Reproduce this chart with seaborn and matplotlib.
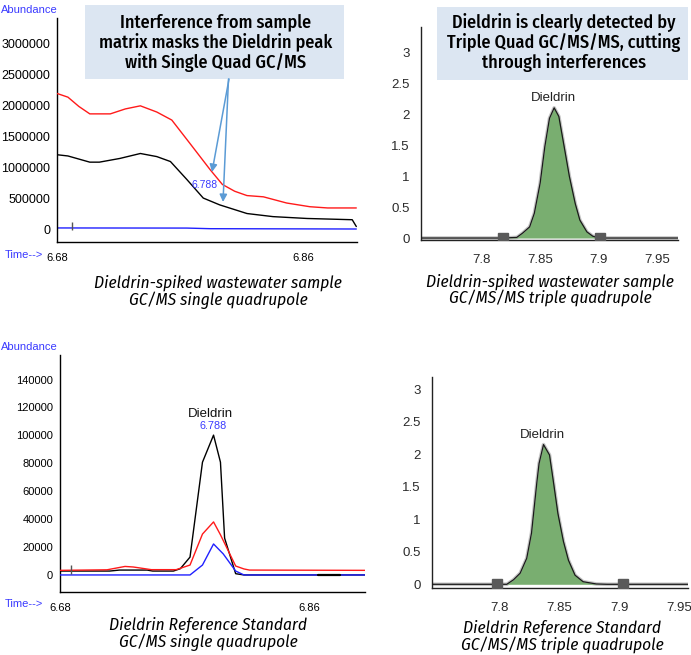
import numpy as np
import matplotlib
matplotlib.use("Agg")
import matplotlib.pyplot as plt
import seaborn as sns
from matplotlib import font_manager as fm
from matplotlib.patches import Rectangle, FancyArrowPatch

# ---------------- data ----------------
# Top-left: wastewater sample, single quad (time min, abundance)
tl_time_red = [6.680, 6.688, 6.696, 6.704, 6.719, 6.730, 6.741, 6.753, 6.764, 6.777, 6.792, 6.801, 6.810, 6.819, 6.831, 6.848, 6.865, 6.878, 6.899]
tl_red = [2200000, 2140000, 1990000, 1870000, 1870000, 1950000, 2000000, 1900000, 1770000, 1400000, 970000, 730000, 620000, 550000, 530000, 430000, 370000, 350000, 350000]
tl_time_black = [6.680, 6.688, 6.704, 6.711, 6.726, 6.741, 6.753, 6.763, 6.775, 6.787, 6.799, 6.819, 6.838, 6.863, 6.896, 6.899]
tl_black = [1210000, 1190000, 1090000, 1090000, 1150000, 1230000, 1180000, 1100000, 810000, 510000, 400000, 260000, 210000, 180000, 160000, 50000]
tl_time_blue = [6.680, 6.775, 6.792, 6.899]
tl_blue = [27000, 25000, 15000, 10000]
tl_rt_label = 6.788
tl_int_start = 6.691
tl_int_height = [0, 130000]

# Bottom-left: reference standard, single quad
bl_time_black = [6.680, 6.716, 6.723, 6.743, 6.747, 6.762, 6.767, 6.774, 6.783, 6.791, 6.796, 6.799, 6.807, 6.813, 6.9005]
bl_black = [2800, 2800, 3500, 3500, 2800, 2800, 4500, 12800, 80800, 100200, 80800, 26400, 900, 0, 0]
bl_time_red = [6.680, 6.714, 6.727, 6.733, 6.746, 6.764, 6.774, 6.783, 6.791, 6.796, 6.807, 6.813, 6.817, 6.9005]
bl_red = [3300, 3700, 6100, 5700, 3800, 3800, 7100, 29300, 38000, 28800, 6400, 4300, 3500, 3300]
bl_time_blue = [6.680, 6.774, 6.783, 6.791, 6.798, 6.807, 6.813, 6.9005]
bl_blue = [0, 0, 7100, 22200, 15100, 2800, 0, 0]
bl_time_black_seg = [6.8666, 6.8825]
bl_black_seg = [300, 300]
bl_int_start = 6.688
bl_int_height = [900, 7300]

# Top-right: wastewater sample, triple quad
tr_time = [7.748, 7.818, 7.830, 7.835, 7.841, 7.845, 7.850, 7.854, 7.858, 7.862, 7.866, 7.870, 7.875, 7.880, 7.884, 7.890, 7.895, 7.901, 7.968]
tr_resp = [0, 0, 0.01, 0.08, 0.18, 0.40, 0.89, 1.48, 1.94, 2.11, 1.97, 1.54, 1.00, 0.56, 0.29, 0.10, 0.03, 0.0, 0.0]
tr_marks = [7.818, 7.901]

# Bottom-right: reference standard, triple quad
br_time = [7.744, 7.8064, 7.812, 7.8175, 7.823, 7.827, 7.8314, 7.8333, 7.837, 7.842, 7.845, 7.849, 7.8536, 7.8578, 7.8633, 7.870, 7.881, 7.890, 7.9575]
br_resp = [0, 0, 0.07, 0.17, 0.40, 0.79, 1.56, 1.86, 2.15, 1.99, 1.61, 1.09, 0.66, 0.37, 0.14, 0.04, 0.005, 0, 0]
br_marks = [7.798, 7.9036]

sq_yticks_tl = [0, 500000, 1000000, 1500000, 2000000, 2500000, 3000000]
sq_yticks_bl = [0, 20000, 40000, 60000, 80000, 100000, 120000, 140000]
tq_yticks = [0, 0.5, 1, 1.5, 2, 2.5, 3]
tq_yticklabels = ["0", "0.5", "1", "1.5", "2", "2.5", "3"]
tq_xticks = [7.8, 7.85, 7.9, 7.95]
tq_xticklabels = ["7.8", "7.85", "7.9", "7.95"]

box1_lines = ["Interference from sample", "matrix masks the Dieldrin peak", "with Single Quad GC/MS"]
box2_lines = ["Dieldrin is clearly detected by", "Triple Quad GC/MS/MS, cutting", "through interferences"]
cap_tl = ["Dieldrin-spiked wastewater sample", "GC/MS single quadrupole"]
cap_tr = ["Dieldrin-spiked wastewater sample", "GC/MS/MS triple quadrupole"]
cap_bl = ["Dieldrin Reference Standard", "GC/MS single quadrupole"]
cap_br = ["Dieldrin Reference Standard", "GC/MS/MS triple quadrupole"]

# ---------------- style ----------------
sns.set_style("white")
names = {f.name for f in fm.fontManager.ttflist}
COND = "Lato"
for cand in ["Fira Sans Condensed", "Roboto Condensed", "IBM Plex Sans Condensed", "Liberation Sans Narrow", "Lato"]:
    if cand in names:
        COND = cand
        break
TICKF = "Liberation Sans" if "Liberation Sans" in names else "DejaVu Sans"
plt.rcParams["font.family"] = [TICKF, "DejaVu Sans"]

W, H = 691, 655
fig = plt.figure(figsize=(W / 100, H / 100), dpi=100)
fig.patch.set_facecolor("white")


def add_ax(l, t, r, b):
    return fig.add_axes([l / W, 1 - b / H, (r - l) / W, (b - t) / H])


def fx(x):
    return x / W


def fy(y):
    return 1 - y / H


BLUE_TXT = "#3a3aff"


def style_sq(ax, xlim, ylim, yt, ymin_step, fs):
    ax.set_xlim(*xlim)
    ax.set_ylim(*ylim)
    ax.set_facecolor("white")
    for s in ["top", "right"]:
        ax.spines[s].set_visible(False)
    for s in ["left", "bottom"]:
        ax.spines[s].set_color("black")
        ax.spines[s].set_linewidth(1)
    xt = [xlim[0] + 0.036 * i for i in range(7)]
    ax.set_xticks(xt)
    ax.set_xticklabels(["6.68", "", "", "", "", "6.86", ""])
    ax.tick_params(axis="x", direction="out", length=5, width=1, pad=3, labelsize=8, colors="black")
    ax.set_yticks(yt)
    ax.set_yticklabels([str(v) for v in yt])
    ax.set_yticks(np.arange(ylim[0] - ylim[0] % ymin_step, ylim[1], ymin_step), minor=True)
    ax.tick_params(axis="y", which="major", direction="out", length=4, width=1, pad=1, labelsize=fs, colors="black")
    ax.tick_params(axis="y", which="minor", direction="out", length=3, width=1, colors="black")
    ax.set_xlabel("")
    ax.set_ylabel("")
    ax.grid(False)


def style_tq(ax, xlim, ylim):
    ax.set_xlim(*xlim)
    ax.set_ylim(*ylim)
    ax.set_facecolor("white")
    for s in ["top", "right"]:
        ax.spines[s].set_visible(False)
    for s in ["left", "bottom"]:
        ax.spines[s].set_color("#222222")
        ax.spines[s].set_linewidth(1)
    ax.set_xticks([xlim[0]] + tq_xticks)
    ax.set_xticklabels([""] + tq_xticklabels)
    ax.set_yticks(tq_yticks)
    ax.set_yticklabels(tq_yticklabels)
    ax.tick_params(axis="both", direction="out", length=6, width=1, labelsize=9.5, colors="#2a2a2a")
    ax.tick_params(axis="x", pad=4)
    ax.tick_params(axis="y", pad=2)
    ax.set_xlabel("")
    ax.set_ylabel("")
    ax.grid(False)


def line(ax, x, y, color, lw=1.0, z=2, alpha=1.0):
    sns.lineplot(x=x, y=y, ax=ax, color=color, lw=lw, sort=False, estimator=None,
                 zorder=z, alpha=alpha, legend=False)


# ---------------- top-left ----------------
ax1 = add_ax(57, 18, 357, 242)
line(ax1, tl_time_blue, tl_blue, "#2020ff", z=2)
line(ax1, tl_time_black, tl_black, "black", z=3)
line(ax1, tl_time_red, tl_red, "#ff1a1a", z=4)
ax1.vlines(tl_int_start, tl_int_height[0], tl_int_height[1], color="#555555", lw=1, zorder=5)
style_sq(ax1, (6.68, 6.8995), (-193500, 3419000), sq_yticks_tl, 100000, 9)
ax1.annotate(f"{tl_rt_label:.3f}", xy=(tl_rt_label, np.interp(tl_rt_label, tl_time_black, tl_black)),
             xytext=(0, 9.5), textcoords="offset points", ha="center", va="center",
             fontsize=7.5, color=BLUE_TXT, zorder=6)
fig.text(fx(58), fy(10), "Abundance", ha="right", va="center", fontsize=8, color=BLUE_TXT)
fig.text(fx(5), fy(255), "Time-->", ha="left", va="center", fontsize=8, color=BLUE_TXT)

# ---------------- bottom-left ----------------
ax3 = add_ax(60, 355, 365, 591.7)
line(ax3, bl_time_black, bl_black, "black", z=2)
line(ax3, bl_time_blue, bl_blue, "#2020ff", z=3)
line(ax3, bl_time_red, bl_red, "#ff1a1a", z=4)
line(ax3, bl_time_black_seg, bl_black_seg, "black", lw=1.6, z=5)
ax3.vlines(bl_int_start, bl_int_height[0], bl_int_height[1], color="#555555", lw=1, zorder=5)
style_sq(ax3, (6.68, 6.9005), (-10210, 157610), sq_yticks_bl, 4000, 8)
imax = int(np.argmax(bl_black))
ax3.annotate("6.788", xy=(bl_time_black[imax], bl_black[imax]), xytext=(0, 6.5),
             textcoords="offset points", ha="center", va="center", fontsize=7.8, color=BLUE_TXT)
ax3.annotate("Dieldrin", xy=(bl_time_black[imax], bl_black[imax]), xytext=(-2, 15.5),
             textcoords="offset points", ha="center", va="center", fontsize=9.5, color="#111111")
fig.text(fx(58), fy(347), "Abundance", ha="right", va="center", fontsize=8, color=BLUE_TXT)
fig.text(fx(5), fy(604), "Time-->", ha="left", va="center", fontsize=8, color=BLUE_TXT)

# ---------------- right panels ----------------
GREEN = "#79ae70"


def tq_panel(ax, t, r, marks, xlim, ylim):
    t = np.array(t)
    r = np.array(r)
    m = (t >= marks[0]) & (t <= marks[1])
    ax.fill_between(t[m], 0, r[m], color=GREEN, lw=0, zorder=2)
    line(ax, t, r, "#c4c4c4", lw=2.6, z=1)
    line(ax, t, r, "#1a1a1a", lw=0.9, z=3)
    ax.plot(marks, [0, 0], ls="none", marker="s", ms=6.5, color="#5a5a5a", zorder=4)
    style_tq(ax, xlim, ylim)
    i = int(np.argmax(r))
    ax.annotate("Dieldrin", xy=(t[i], r[i]), xytext=(-0.5, 7), textcoords="offset points",
                ha="center", va="center", fontsize=9.5, color="#222222")


ax2 = add_ax(421, 27, 678, 240)
tq_panel(ax2, tr_time, tr_resp, tr_marks, (7.748, 7.968), (-0.032, 3.42))
ax4 = add_ax(432, 377, 688, 588)
tq_panel(ax4, br_time, br_resp, br_marks, (7.744, 7.9575), (-0.057, 3.19))

# ---------------- callout boxes ----------------
BOX = "#dce6f2"
fig.patches.append(Rectangle((fx(85), fy(79)), (344 - 85) / W, (79 - 5) / H, transform=fig.transFigure,
                             facecolor=BOX, edgecolor="none", zorder=10))
fig.patches.append(Rectangle((fx(437), fy(80)), (688 - 437) / W, (80 - 7) / H, transform=fig.transFigure,
                             facecolor=BOX, edgecolor="none", zorder=10))

renderer = fig.canvas.get_renderer()


def fit_size(s, target_w, style="normal", weight="normal", base=12):
    t = fig.text(0, 0, s, fontsize=base, family=[COND, "DejaVu Sans"], style=style, weight=weight)
    w = t.get_window_extent(renderer).width
    t.remove()
    return base * target_w / w


def text_lines(lines, cx, ys, size, style="normal", weight="normal"):
    for s, y in zip(lines, ys):
        fig.text(fx(cx), fy(y), s, ha="center", va="center", fontsize=size,
                 family=[COND, "DejaVu Sans"], style=style, weight=weight, color="black", zorder=11)


box_size = fit_size(box1_lines[1], 233, weight="medium")
text_lines(box1_lines, 216, [22, 42, 62], box_size, weight="medium")
text_lines(box2_lines, 564, [22, 42, 62], box_size, weight="medium")

for (x0, y0), (x1, y1) in [((229, 79), (212, 172)), ((228.5, 79), (223, 202))]:
    fig.patches.append(FancyArrowPatch((fx(x0), fy(y0)), (fx(x1), fy(y1)), transform=fig.transFigure,
                                       arrowstyle="-|>", mutation_scale=11, color="#5b9bd5", lw=1.1,
                                       shrinkA=0, shrinkB=0, zorder=12))

# ---------------- captions ----------------
cap_size = fit_size(cap_tl[0], 248, style="italic")
text_lines(cap_tl, 218, [283, 300], cap_size, style="italic")
text_lines(cap_tr, 550, [282, 298], cap_size, style="italic")
text_lines(cap_bl, 208, [625, 642], cap_size, style="italic")
text_lines(cap_br, 562, [628, 645], cap_size, style="italic")

fig.savefig("out.png", dpi=100)
